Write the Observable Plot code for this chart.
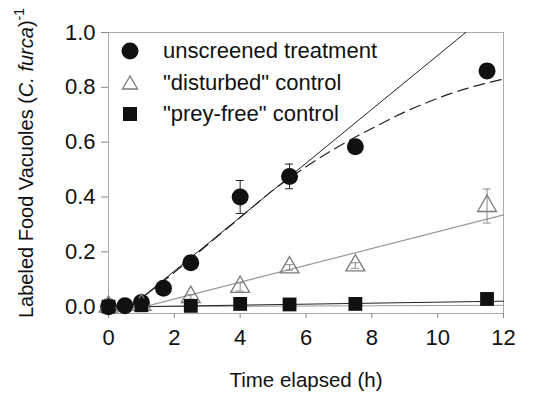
<!DOCTYPE html>
<html><head><meta charset="utf-8">
<script src="https://cdn.jsdelivr.net/npm/d3@7"></script>
<script src="https://cdn.jsdelivr.net/npm/@observablehq/plot@0.6"></script>
<style>
body{margin:0;background:#fff;font-family:"Liberation Sans",Arial,sans-serif;}
#wrap{position:relative;width:541px;height:402px;overflow:hidden;}
.lg{position:absolute;left:118px;height:24px;display:flex;align-items:center;font-size:22px;color:#111;white-space:nowrap;}
.lg svg{width:24px;height:24px;margin-right:21px;}
</style></head><body>
<div id="wrap"><div id="chart"></div></div>
<script>
// ---- data ----
const xTicks = [0, 2, 4, 6, 8, 10, 12];
const yTicks = [0, 0.2, 0.4, 0.6, 0.8, 1.0];

const unscreenedT = [0, 0.5, 1, 1.67, 2.5, 4, 5.5, 7.5, 11.5];
const unscreenedV = [0.0, 0.003, 0.015, 0.067, 0.16, 0.40, 0.475, 0.583, 0.86];
const unscreenedE = [0, 0, 0, 0, 0, 0.06, 0.045, 0, 0];

const disturbedT = [0, 1, 2.5, 4, 5.5, 7.5, 11.5];
const disturbedV = [0.0, 0.006, 0.035, 0.072, 0.143, 0.15, 0.367];
const disturbedE = [0, 0, 0.008, 0.015, 0.01, 0.01, 0.062];

const preyfreeT = [0, 1, 2.5, 4, 5.5, 7.5, 11.5];
const preyfreeV = [0.0, 0.005, 0.003, 0.01, 0.008, 0.01, 0.028];

// fitted lines
const fitLinT = [0.75, 10.85];
const fitLinV = [0.007, 1.0];
const fitCurveT = [0.75, 2, 3, 4, 5, 6, 7, 8, 9, 10, 11, 12];
const fitCurveV = [0.007, 0.125, 0.225, 0.325, 0.425, 0.51, 0.585, 0.65, 0.71, 0.76, 0.80, 0.83];
const fitDistT = [1.1, 12];
const fitDistV = [0.0, 0.335];
const fitPreyT = [1, 12];
const fitPreyV = [0.0, 0.02];
const fitPrey2T = [1, 12];
const fitPrey2V = [0.0, 0.005];

const legendLabels = ["unscreened treatment", "\"disturbed\" control", "\"prey-free\" control"];
const xLabel = "Time elapsed (h)";

// ---- build tables ----
const zip = (T, V, E) => T.map((t, i) => ({t, v: V[i], e: E ? E[i] : 0}));
const uns = zip(unscreenedT, unscreenedV, unscreenedE);
const dis = zip(disturbedT, disturbedV, disturbedE);
const pf = zip(preyfreeT, preyfreeV);
const lin = zip(fitLinT, fitLinV);
const cur = zip(fitCurveT, fitCurveV);
const dfit = zip(fitDistT, fitDistV);
const pfit = zip(fitPreyT, fitPreyV);
const pfit2 = zip(fitPrey2T, fitPrey2V);
const unsE = uns.filter(d => d.e > 0);
const disE = dis.filter(d => d.e > 0);

const capHalf = 0.12; // half-width of error-bar caps, in hours
const errMarks = (data, color) => [
  Plot.ruleX(data, {x: "t", y1: d => d.v - d.e, y2: d => d.v + d.e, stroke: color, strokeWidth: 1}),
  Plot.ruleY(data, {y: d => d.v + d.e, x1: d => d.t - capHalf, x2: d => d.t + capHalf, stroke: color, strokeWidth: 1}),
  Plot.ruleY(data, {y: d => d.v - d.e, x1: d => d.t - capHalf, x2: d => d.t + capHalf, stroke: color, strokeWidth: 1})
];

const chart = Plot.plot({
  width: 541, height: 402,
  marginLeft: 108, marginRight: 38, marginTop: 32, marginBottom: 89,
  style: {fontFamily: "'Liberation Sans', Arial, sans-serif", background: "white", color: "#111"},
  x: {type: "linear", domain: [0, 12]},
  y: {type: "linear", domain: [-0.025, 1.0]},
  marks: [
    Plot.frame({stroke: "#aaa"}),
    Plot.axisY({ticks: yTicks, tickFormat: d3.format(".1f"), tickSize: 7, tickPadding: 6, label: null, fontSize: 22, stroke: "#888"}),
    Plot.axisX({ticks: xTicks, tickSize: 5, tickPadding: 11, label: null, fontSize: 22, stroke: "#888"}),
    Plot.text([xLabel], {frameAnchor: "bottom", dy: 67, text: d => d, fontSize: 20.5, lineAnchor: "middle"}),
    // fitted lines
    Plot.line(pfit2, {x: "t", y: "v", stroke: "#999", strokeWidth: 1}),
    Plot.line(pfit, {x: "t", y: "v", stroke: "#222", strokeWidth: 1}),
    Plot.line(dfit, {x: "t", y: "v", stroke: "#999", strokeWidth: 1.2}),
    Plot.line(cur, {x: "t", y: "v", stroke: "#222", strokeWidth: 1.2, strokeDasharray: "11,6", curve: "monotone-x"}),
    Plot.line(lin, {x: "t", y: "v", stroke: "#222", strokeWidth: 1}),
    // error bars
    ...errMarks(unsE, "#222"),
    ...errMarks(disE, "#888"),
    // points
    Plot.dot(uns, {x: "t", y: "v", r: 8.5, fill: "#111", stroke: "none"}),
    Plot.dot(dis, {x: "t", y: "v", symbol: "triangle", r: 7, fill: "none", stroke: "#7a7a7a", strokeWidth: 1.3}),
    Plot.dot(pf, {x: "t", y: "v", symbol: "square", r: 7.8, fill: "#111", stroke: "none"})
  ]
});
document.getElementById("chart").appendChild(chart);

// rotated y label with italic species name and superscript
const svg = d3.select(chart);
const yl = svg.append("text")
  .attr("transform", "translate(33,163) rotate(-90)")
  .attr("text-anchor", "middle")
  .attr("font-size", 20)
  .attr("fill", "#111");
yl.append("tspan").text("Labeled Food Vacuoles (");
yl.append("tspan").attr("font-style", "italic").text("C. furca");
yl.append("tspan").text(")");
yl.append("tspan").attr("font-size", 14).attr("dy", -9).text("-1");

// legend (HTML overlay)
const wrap = document.getElementById("wrap");
const syms = [
  '<svg viewBox="-12 -12 24 24"><circle r="8.5" fill="#111"/></svg>',
  '<svg viewBox="-12 -12 24 24"><path d="M0,-7L7.5,6H-7.5Z" fill="none" stroke="#7a7a7a" stroke-width="1.3"/></svg>',
  '<svg viewBox="-12 -12 24 24"><rect x="-7" y="-7" width="14" height="14" fill="#111"/></svg>'
];
const rowY = [39, 71, 102];
legendLabels.forEach((lab, i) => {
  const d = document.createElement("div");
  d.className = "lg";
  d.style.top = rowY[i] + "px";
  d.innerHTML = syms[i] + "<span>" + lab + "</span>";
  wrap.appendChild(d);
});
</script>
</body></html>
